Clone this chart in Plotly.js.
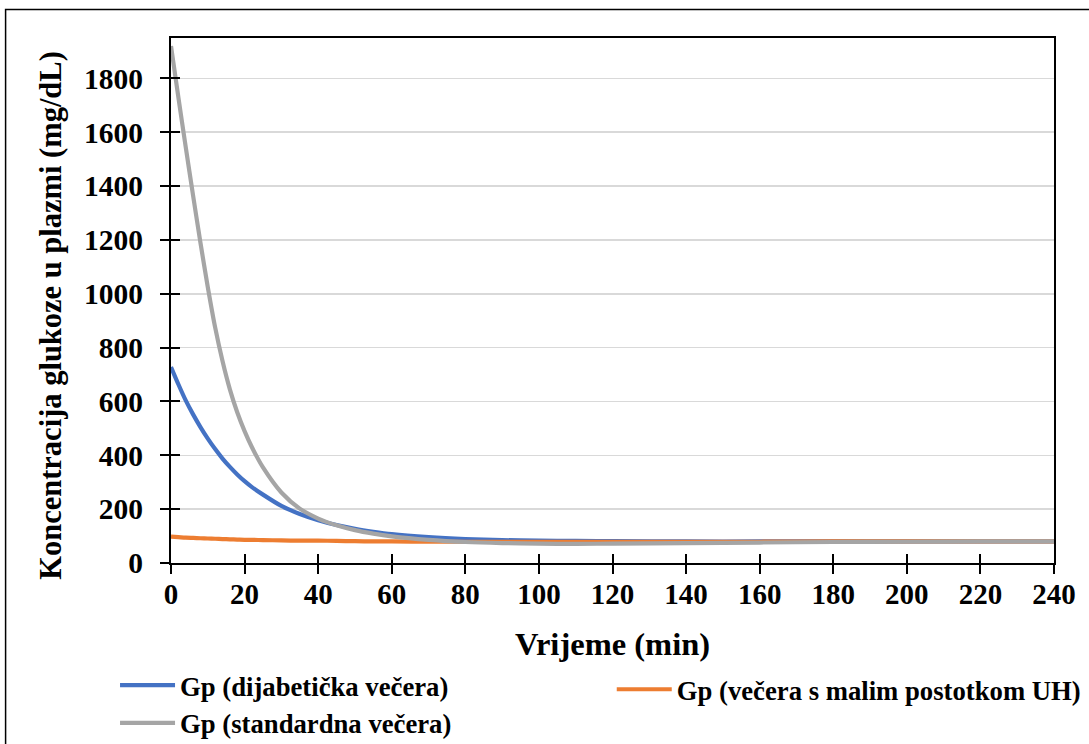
<!DOCTYPE html>
<html>
<head>
<meta charset="utf-8">
<script src="https://cdn.plot.ly/plotly-3.0.1.min.js"></script>
<style>html,body{margin:0;padding:0;background:#fff;}#chart{width:1089px;height:744px;}</style>
</head>
<body>
<div id="chart"></div>
<script>
const time = [0,2,4,6,8,10,12,14,16,18,20,22,25,30,35,40,45,50,55,60,70,80,90,100,110,120,140,160,180,200,220,240];
const gpDijabeticka = [728,664,604,552,505,462,423,388,357,329,304,282,254,212,182,159,141,127,116,107,96,89,85,83,82,81,80,80,80,80,80,80];
const gpMaliUH = [98,96,94,93,92,91,90,89,88,87,86,86,85,84,83,83,82,81,80,80,79,79,79,79,79,79,79,79,80,80,80,80];
const gpStandardna = [1920,1730,1545,1365,1190,1025,875,750,645,560,490,430,355,262,202,165,140,122,109,99,86,78,74,72,71,72,74,76,78,79,80,80];
const xTicks = [0,20,40,60,80,100,120,140,160,180,200,220,240];
const yTicks = [0,200,400,600,800,1000,1200,1400,1600,1800];
const seriesNames = ['Gp (dijabetička večera)', 'Gp (večera s malim postotkom UH)', 'Gp (standardna večera)'];
const xTitle = 'Vrijeme (min)';
const yTitle = 'Koncentracija glukoze u plazmi (mg/dL)';

const FAM = 'Liberation Serif';
const bold = s => '<b>' + s + '</b>';
const traces = [
  {x: time, y: gpDijabeticka, name: bold(seriesNames[0]), legend: 'legend', mode: 'lines', line: {color: '#4472C4', width: 4.2, shape: 'spline', smoothing: 0.8}},
  {x: time, y: gpMaliUH, name: bold(seriesNames[1]), legend: 'legend2', mode: 'lines', line: {color: '#ED7D31', width: 4.2, shape: 'spline', smoothing: 0.8}},
  {x: time, y: gpStandardna, name: bold(seriesNames[2]), legend: 'legend', mode: 'lines', line: {color: '#A5A5A5', width: 4.2, shape: 'spline', smoothing: 0.8}}
];
const pw = 883.5, ph = 525.5, L = 171, T = 38;
function px(x){return (x - L)/pw;}
function py(y){return (T + ph - y)/ph;}
const layout = {
  width: 1089, height: 744,
  margin: {l: L, r: 1089 - L - pw, t: T, b: 744 - T - ph, pad: 0, autoexpand: false},
  paper_bgcolor: '#fff', plot_bgcolor: '#fff',
  showlegend: true,
  font: {family: FAM, color: '#000', size: 22},
  xaxis: {
    range: [0, 240], tickvals: xTicks, ticktext: xTicks.map(v => bold(v)),
    showgrid: false, zeroline: false,
    showline: true, linecolor: '#000', linewidth: 2, mirror: true,
    ticks: 'outside', ticklen: 9, tickwidth: 2, tickcolor: '#000', ticklabelstandoff: -5,
    tickfont: {family: FAM, color: '#000', size: 29},
    title: {text: bold(xTitle), font: {family: FAM, color: '#000', size: 32.5}, standoff: 23}
  },
  yaxis: {
    range: [0, 1950], tickvals: yTicks, ticktext: yTicks.map(v => bold(v)),
    showgrid: true, gridcolor: '#D9D9D9', gridwidth: 1.5, zeroline: false,
    showline: true, linecolor: '#000', linewidth: 2, mirror: true,
    ticks: 'outside', ticklen: 9, tickwidth: 2, tickcolor: '#000', ticklabelstandoff: 11,
    tickfont: {family: FAM, color: '#000', size: 29.5}
  },
  xaxis2: {overlaying: 'x', anchor: 'y', range: [0, 240], tickvals: xTicks, showticklabels: false, ticks: 'inside', ticklen: 9, tickwidth: 2, tickcolor: '#000', showgrid: false, zeroline: false, showline: false},
  yaxis2: {overlaying: 'y', anchor: 'x', range: [0, 1950], tickvals: yTicks, showticklabels: false, ticks: 'inside', ticklen: 9, tickwidth: 2, tickcolor: '#000', showgrid: false, zeroline: false, showline: false},
  legend: {
    orientation: 'v', x: px(115), xanchor: 'left', y: py(705), yanchor: 'middle',
    itemwidth: 55, tracegroupgap: 0, font: {family: FAM, color: '#000', size: 26.7}, bgcolor: 'rgba(0,0,0,0)'
  },
  legend2: {
    orientation: 'v', x: px(612), xanchor: 'left', y: py(690), yanchor: 'middle',
    itemwidth: 55, tracegroupgap: 0, font: {family: FAM, color: '#000', size: 26.7}, bgcolor: 'rgba(0,0,0,0)'
  },
  annotations: [
    {text: bold(yTitle), xref: 'paper', yref: 'paper', x: px(51), y: py(316), xanchor: 'center', yanchor: 'middle', textangle: -90, showarrow: false, font: {family: FAM, color: '#000', size: 30.5}}
  ],
  shapes: [
    {type: 'rect', xref: 'paper', yref: 'paper', x0: px(5.5), x1: px(1100), y0: py(9.5), y1: py(760), line: {color: '#000', width: 1.5}, fillcolor: 'rgba(0,0,0,0)', layer: 'below'}
  ]
};
const dummy = {x: [0], y: [0], xaxis: 'x2', yaxis: 'y2', mode: 'markers', marker: {opacity: 0}, showlegend: false, hoverinfo: 'skip'};
Plotly.newPlot('chart', traces.concat([dummy]), layout, {staticPlot: true});
</script>
</body>
</html>
